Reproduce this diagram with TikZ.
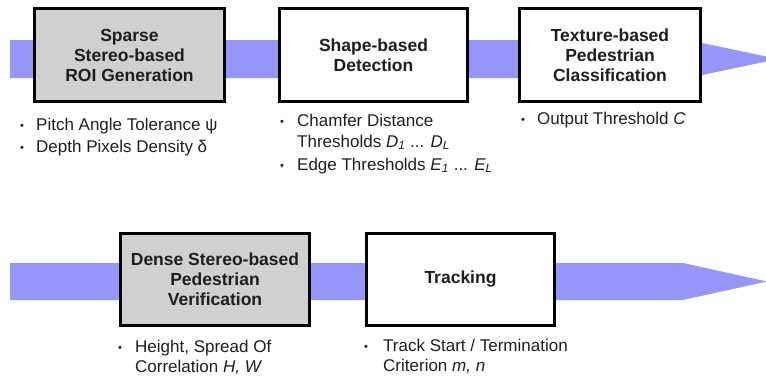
\documentclass[tikz,border=0pt]{standalone}
\usepackage{fontspec}
\setmainfont{Liberation Sans}
\definecolor{bandblue}{RGB}{150,150,248}
\definecolor{boxgray}{RGB}{208,208,208}
\definecolor{ink}{RGB}{30,30,30}
\begin{document}
\begin{tikzpicture}[x=1pt,y=-1pt,
  stage/.style={draw=black, line width=2.6pt, minimum height=93pt, inner sep=0pt,
    align=center, text=ink, font=\fontsize{17.5}{20}\selectfont\bfseries},
  grayfill/.style={fill=boxgray},
  whitefill/.style={fill=white},
  band/.style={fill=bandblue, draw=none},
  bul/.style={anchor=base west, inner sep=0pt, text=ink, font=\fontsize{11}{13}\selectfont},
  txt/.style={anchor=base west, inner sep=0pt, text=ink, font=\fontsize{17}{20}\selectfont}
]
\useasboundingbox (0,0) rectangle (766,375);
\clip (0,0) rectangle (766,375);
% bands
\coordinate (t0) at (10,40);
\coordinate (t1) at (688,40);
\coordinate (ttip) at (778,59);
\coordinate (t2) at (688,78);
\coordinate (t3) at (10,78);
\fill[band] (t0) -- (t1) -- (ttip) -- (t2) -- (t3) -- cycle;
\coordinate (b0) at (10,263);
\coordinate (b1) at (683,263);
\coordinate (btip) at (767,281.5);
\coordinate (b2) at (683,300);
\coordinate (b3) at (10,300);
\fill[band] (b0) -- (b1) -- (btip) -- (b2) -- (b3) -- cycle;
% boxes
\node[stage, grayfill, minimum width=190pt] (roi) at (129.5,55) {Sparse\\Stereo-based\\ROI Generation};
\node[stage, whitefill, minimum width=188pt] (shape) at (373.5,55) {Shape-based\\Detection};
\node[stage, whitefill, minimum width=181pt] (tex) at (610,55) {Texture-based\\Pedestrian\\Classification};
\node[stage, grayfill, minimum width=189pt, minimum height=92pt] (dense) at (215,279.5) {Dense Stereo-based\\Pedestrian\\Verification};
\node[stage, whitefill, minimum width=188pt, minimum height=92pt] (track) at (460.5,279.5) {Tracking};
% parameter lists
\node[bul] (b11) at (20,129) {•};
\node[txt] (p11) at (36,130) {Pitch Angle Tolerance ψ};
\node[bul] (b12) at (20,151) {•};
\node[txt] (p12) at (36,152) {Depth Pixels Density δ};
\node[bul] (b21) at (280,125) {•};
\node[txt] (p21) at (297,126) {Chamfer Distance};
\node[txt] (p22) at (297,147) {Thresholds \textit{D}\textsubscript{\textit{1}} ... \textit{D}\textsubscript{\textit{L}}};
\node[bul] (b23) at (280,169) {•};
\node[txt] (p23) at (297,170) {Edge Thresholds \textit{E}\textsubscript{\textit{1}} ... \textit{E}\textsubscript{\textit{L}}};
\node[bul] (b31) at (521,123) {•};
\node[txt] (p31) at (537,124) {Output Threshold \textit{C}};
\node[bul] (b41) at (118,351) {•};
\node[txt] (p41) at (135,352) {Height, Spread Of};
\node[txt] (p42) at (135,372) {Correlation \textit{H, W}};
\node[bul] (b51) at (364,350) {•};
\node[txt] (p51) at (383,351) {Track Start / Termination};
\node[txt] (p52) at (383,371) {Criterion \textit{m, n}};
\end{tikzpicture}
\end{document}
